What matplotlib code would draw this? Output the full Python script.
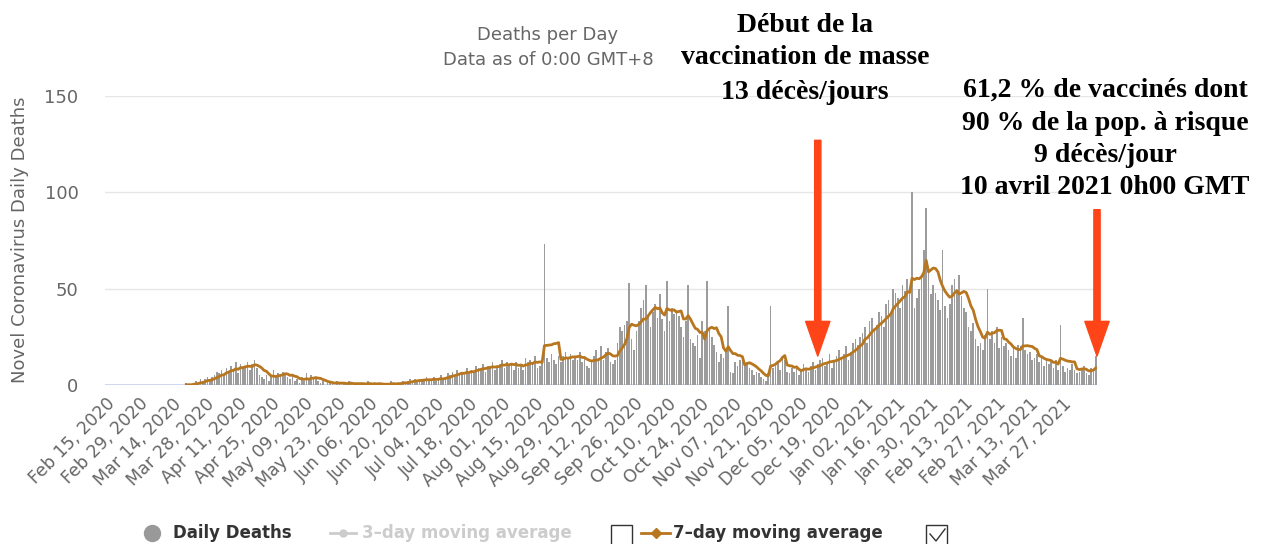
#!/usr/bin/env python3

import matplotlib.pyplot as plt
from matplotlib.lines import Line2D
from matplotlib.patches import Rectangle
import numpy as np
import pandas as pd

W, H = 1266, 544

start_date = "2020-02-15"

# daily deaths, one list per month
deaths_feb20 = [0, 0, 0, 0, 0, 0, 0, 0, 0, 0, 0, 0, 0, 0, 0]
deaths_mar20 = [0, 0, 0, 0, 0, 0, 0, 0, 0, 0, 0, 0, 0, 0, 0, 0, 0, 0, 0,
                1, 0, 0, 1, 2, 1, 3, 2, 3, 4, 2, 4]
deaths_apr20 = [5, 7, 6, 8, 5, 9, 7, 10, 8, 12, 6, 11, 9, 10, 12, 8, 11, 13, 9, 5,
                4, 3, 5, 2, 5, 8, 4, 6, 5, 7]
deaths_may20 = [6, 4, 3, 5, 2, 3, 1, 4, 2, 6, 3, 5, 4, 3, 2, 1, 2, 0, 1, 2,
                1, 0, 2, 1, 0, 1, 0, 2, 1, 0, 1]
deaths_jun20 = [0, 1, 0, 1, 2, 0, 0, 1, 0, 1, 0, 1, 0, 0, 2, 1, 0, 1, 1, 2,
                1, 2, 3, 2, 3, 2, 3, 2, 3, 4]
deaths_jul20 = [2, 3, 4, 2, 3, 5, 3, 4, 6, 5, 7, 4, 8, 6, 7, 5, 9, 6, 8, 7,
                10, 9, 8, 11, 7, 10, 9, 12, 8, 10, 11]
deaths_aug20 = [13, 9, 12, 10, 11, 8, 12, 9, 11, 8, 14, 12, 13, 11, 15, 9, 10, 12, 73, 14,
                12, 16, 13, 11, 15, 12, 15, 17, 14, 16, 13]
deaths_sep20 = [15, 13, 17, 12, 14, 10, 9, 12, 15, 18, 14, 20, 13, 17, 19, 12, 11, 13, 22, 30,
                28, 31, 33, 53, 24, 18, 28, 33, 40, 44]
deaths_oct20 = [52, 36, 30, 38, 42, 35, 47, 34, 28, 54, 33, 40, 37, 39, 36, 30, 25, 33, 52, 24,
                22, 20, 26, 14, 33, 28, 54, 30, 25, 21, 17]
deaths_nov20 = [12, 16, 14, 18, 41, 7, 6, 12, 10, 13, 14, 11, 12, 9, 8, 5, 7, 6, 4, 3,
                2, 6, 41, 9, 10, 12, 8, 14, 13, 7]
deaths_dec20 = [6, 9, 7, 10, 5, 8, 11, 9, 7, 10, 12, 8, 11, 13, 14, 10, 12, 16, 9, 13,
                15, 18, 14, 16, 20, 13, 17, 22, 24, 21, 25]
deaths_jan21 = [27, 30, 22, 33, 35, 29, 31, 38, 36, 30, 42, 44, 37, 50, 48, 45, 40, 52, 49, 55,
                47, 100, 40, 45, 50, 56, 70, 92, 58, 47, 52]
deaths_feb21 = [48, 44, 39, 70, 41, 35, 42, 52, 55, 48, 57, 46, 40, 38, 30, 28, 32, 24, 20, 22,
                18, 26, 50, 24, 28, 22, 30, 19]
deaths_mar21 = [25, 20, 22, 18, 15, 19, 14, 21, 20, 35, 18, 16, 17, 13, 14, 16, 12, 15, 10, 13,
                11, 12, 9, 13, 8, 31, 10, 7, 9, 8, 11]
deaths_apr21 = [8, 6, 7, 9, 10, 6, 5, 9, 8, 15]

y_ticks = [0, 50, 100, 150]
n_xticks = 30  # Feb 15, 2020 ... Mar 27, 2021, every 14 days

daily = np.array(deaths_feb20 + deaths_mar20 + deaths_apr20 + deaths_may20 +
                 deaths_jun20 + deaths_jul20 + deaths_aug20 + deaths_sep20 +
                 deaths_oct20 + deaths_nov20 + deaths_dec20 + deaths_jan21 +
                 deaths_feb21 + deaths_mar21 + deaths_apr21)
dates = pd.date_range(start_date, periods=len(daily), freq="D")
avg7 = pd.Series(daily).rolling(7, min_periods=1).mean().values
first = int(np.argmax(daily > 0))
tick_dates = pd.date_range(start_date, periods=n_xticks, freq="14D")

def fx(x):
    return x / W

def fy(y):
    return 1 - y / H

fig = plt.figure(figsize=(W / 100, H / 100), dpi=100)
ax = fig.add_axes([fx(105), fy(385), 992 / W, 289 / H])

ax.bar(dates, daily, width=0.7, color="#9c9c9c", linewidth=0, zorder=2)
ax.plot(dates[first:], avg7[first:], color="#b8761f", lw=2.0, zorder=3)

half = pd.Timedelta(hours=12)
ax.set_xlim(dates[0] - half, dates[-1] + half)
ax.set_ylim(0, 150)
ax.set_yticks(y_ticks)
ax.grid(axis="y", color="#e6e6e6", lw=1)
ax.set_axisbelow(True)
for s in ax.spines.values():
    s.set_visible(False)
ax.axhline(0, color="#ccd6eb", lw=1.3, zorder=1)

ax.set_xticks(tick_dates)
ax.set_xticklabels([d.strftime("%b %d, %Y") for d in tick_dates],
                   rotation=45, ha="right", rotation_mode="anchor")
ax.tick_params(length=0, colors="#666666")
ax.tick_params(axis="y", pad=19, labelsize=13)
ax.tick_params(axis="x", pad=7, labelsize=12.5)

fig.text(fx(20), fy(240), "Novel Coronavirus Daily Deaths", rotation=90,
         ha="center", va="center", color="#666666", fontsize=13)
fig.text(fx(548), fy(35), "Deaths per Day", ha="center", va="center",
         color="#666666", fontsize=13)
fig.text(fx(548), fy(60), "Data as of 0:00 GMT+8", ha="center", va="center",
         color="#666666", fontsize=13)

# annotations
serif = dict(family="Liberation Serif", weight="bold", fontsize=20, color="black",
             ha="center", va="center")
for txt, y in [("Début de la", 25), ("vaccination de masse", 58), ("13 décès/jours", 92)]:
    fig.text(fx(805), fy(y), txt, **serif)
for txt, y in [("61,2 % de vaccinés dont", 90), ("90 % de la pop. à risque", 123),
               ("9 décès/jour", 155), ("10 avril 2021 0h00 GMT", 187)]:
    fig.text(fx(1105), fy(y), txt, **serif)

arrow = dict(arrowstyle="simple,head_length=2.5,head_width=1.75,tail_width=0.45",
             mutation_scale=10, color="#ff4518", shrinkA=0, shrinkB=0)
ax.annotate("", xy=(pd.Timestamp("2020-12-13"), 15), xytext=(pd.Timestamp("2020-12-13"), 127),
            arrowprops=arrow, annotation_clip=False)
ax.annotate("", xy=(dates[-1] + half, 15), xytext=(dates[-1] + half, 91),
            arrowprops=arrow, annotation_clip=False)

# legend
ly = fy(533)
fig.add_artist(Line2D([fx(152)], [ly], marker="o", ms=11.5, color="#999999",
                      transform=fig.transFigure))
fig.text(fx(173), ly, "Daily Deaths", fontsize=12, weight="bold", color="#333333", va="center")
fig.add_artist(Line2D([fx(330), fx(356)], [ly, ly], color="#cccccc", lw=2,
                      transform=fig.transFigure))
fig.add_artist(Line2D([fx(343)], [ly], marker="o", ms=5, color="#cccccc",
                      transform=fig.transFigure))
fig.text(fx(362), ly, "3\u2013day moving average", fontsize=12, weight="bold",
         color="#cccccc", va="center")
fig.add_artist(Rectangle((fx(611), fy(546)), 21 / W, 21 / H, fill=False, ec="#333333",
                         lw=1, transform=fig.transFigure))
fig.add_artist(Line2D([fx(641), fx(670)], [ly, ly], color="#b8761f", lw=2,
                      transform=fig.transFigure))
fig.add_artist(Line2D([fx(656)], [ly], marker="D", ms=5, color="#b8761f",
                      transform=fig.transFigure))
fig.text(fx(673), ly, "7\u2013day moving average", fontsize=12, weight="bold",
         color="#333333", va="center")
fig.add_artist(Rectangle((fx(926), fy(546)), 21 / W, 21 / H, fill=False, ec="#333333",
                         lw=1, transform=fig.transFigure))
fig.add_artist(Line2D([fx(930), fx(936), fx(945)], [fy(534), fy(541), fy(529)],
                      color="#333333", lw=1, transform=fig.transFigure))

fig.savefig("out.png", dpi=100)
